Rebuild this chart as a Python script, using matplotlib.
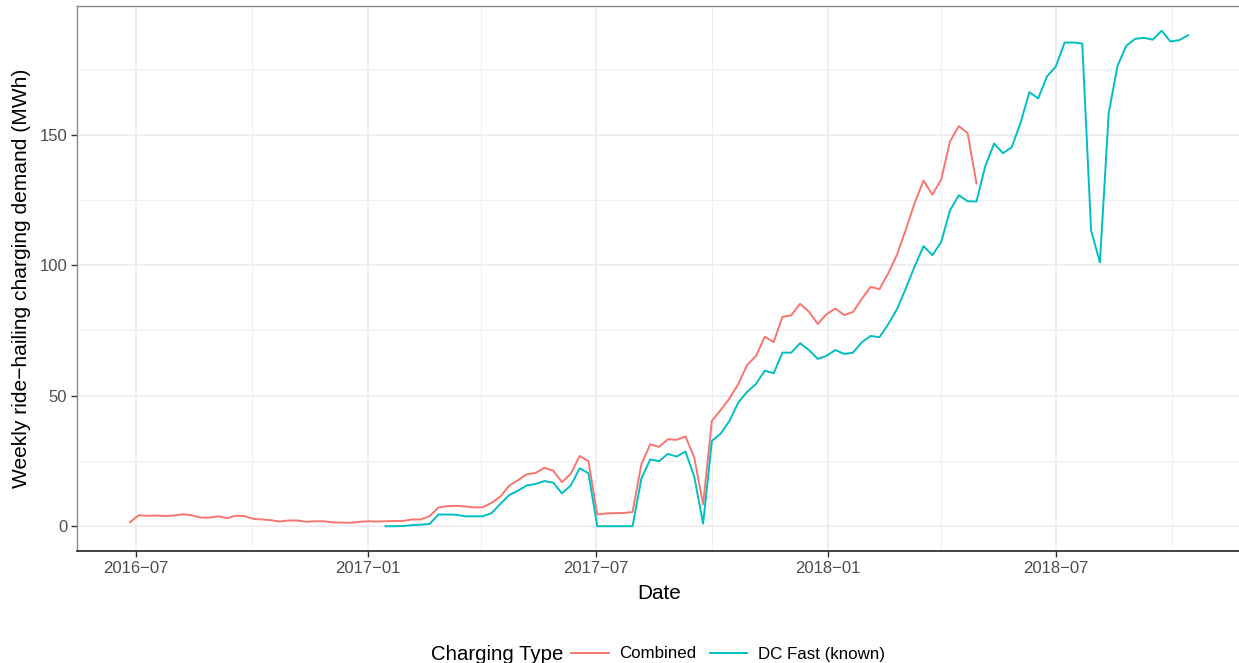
import matplotlib
matplotlib.use("Agg")
import matplotlib.pyplot as plt
from matplotlib.lines import Line2D
from matplotlib.offsetbox import HPacker
import pandas as pd

plt.rcParams['font.family'] = ['Liberation Sans', 'DejaVu Sans']

combined_start = "2016-06-26"
combined = [1.5, 4.2, 4.0, 4.1, 3.9, 4.1, 4.6, 4.2, 3.3, 3.3, 3.8, 3.1, 4.0, 3.9,
            2.8, 2.6, 2.3, 1.8, 2.2, 2.2, 1.7, 1.9, 1.9, 1.5, 1.4, 1.3, 1.7,
            1.9, 1.8, 1.9, 2.0, 2.05, 2.6, 2.6, 3.9,
            7.2, 7.7, 7.8, 7.6, 7.2, 7.3, 8.9, 11.3, 15.5, 17.6, 19.9, 20.4, 22.4,
            21.3, 16.9, 20.1, 26.9, 24.9, 4.5, 4.9, 5.0, 5.1, 5.4, 23.7, 31.4,
            30.4, 33.3, 33.1, 34.4,
            26.3, 8.4, 40.4, 44.5, 49.0, 54.5, 61.8, 65.2, 72.6, 70.5, 80.2, 80.8,
            85.2, 82.2, 77.5, 81.2, 83.4, 80.9, 82.1, 87.1, 91.7, 90.8, 96.9,
            104.1, 113.7, 123.9, 132.4, 127.0, 132.8, 147.4, 153.3, 150.6, 131.3]

dcfast_start = "2017-01-15"
dcfast = [0, 0, 0.1, 0.4, 0.6, 0.9,
          4.5, 4.5, 4.4, 3.8, 3.8, 3.8, 5.0, 8.5, 11.9, 13.6, 15.6, 16.2, 17.3,
          16.7, 12.6, 15.6, 22.2, 20.3, 0, 0, 0, 0, 0, 18.2, 25.6, 24.9, 27.7,
          26.7, 28.6,
          19.0, 1.0, 32.7, 35.5, 40.4, 47.4, 51.5, 54.5, 59.6, 58.6, 66.5, 66.5,
          70.1, 67.5, 64.1, 65.3, 67.5, 66.0, 66.5, 70.5, 72.9, 72.4, 77.4, 83.2,
          91.2, 99.6, 107.3, 103.8, 108.9, 121.0, 126.8, 124.5, 124.4, 137.9,
          146.6, 142.9, 145.2, 154.5, 166.3, 163.9, 172.3, 176.1, 185.3, 185.3,
          184.9, 113.3, 101.1, 158.3, 176.4, 184.1, 186.7, 187.1, 186.4, 189.8,
          185.7, 186.2, 188.1]

series_names = ["Combined", "DC Fast (known)"]
series_colors = ["#F8766D", "#00BFC4"]
x_tick_labels = ["2016−07", "2017−01", "2017−07", "2018−01", "2018−07"]
x_tick_dates = ["2016-07-01", "2017-01-01", "2017-07-01", "2018-01-01", "2018-07-01"]
x_minor_dates = ["2016-10-01", "2017-04-01", "2017-10-01", "2018-04-01", "2018-10-01"]
y_ticks = [0, 50, 100, 150]
y_minor = [25, 75, 125, 175]

d_comb = pd.date_range(combined_start, periods=len(combined), freq="7D")
d_dc = pd.date_range(dcfast_start, periods=len(dcfast), freq="7D")

W, H = 1239, 663
fig = plt.figure(figsize=(W / 100, H / 100), dpi=100)
left, right, top, bottom = 77, 1241, 6, 551
ax = fig.add_axes([left / W, 1 - bottom / H, (right - left) / W, (bottom - top) / H])

ax.plot(d_comb, combined, color=series_colors[0], lw=1.4, zorder=3)
ax.plot(d_dc, dcfast, color=series_colors[1], lw=1.4, zorder=3)

ax.set_xticks([pd.Timestamp(d) for d in x_tick_dates])
ax.set_xticklabels(x_tick_labels)
ax.set_xticks([pd.Timestamp(d) for d in x_minor_dates], minor=True)
ax.set_yticks(y_ticks)
ax.set_yticks(y_minor, minor=True)

# limits with ggplot-style 5% expansion (set after ticks)
xmin = min(d_comb[0], d_dc[0]); xmax = max(d_comb[-1], d_dc[-1])
span = xmax - xmin
ax.set_xlim(xmin - span * 0.05, xmax + span * 0.05)
ymax = max(max(combined), max(dcfast)); ymin = 0
ax.set_ylim(ymin - (ymax - ymin) * 0.05, ymax + (ymax - ymin) * 0.05)

ax.grid(which='major', color='#EBEBEB', lw=1.1, zorder=0)
ax.grid(which='minor', color='#EBEBEB', lw=0.55, zorder=0)
ax.set_axisbelow(True)

ax.tick_params(which='major', length=4, width=1.0, color='#333333',
               labelcolor='#4D4D4D', labelsize=12, pad=3)
ax.tick_params(which='minor', length=0)

for s in ['top', 'left']:
    ax.spines[s].set_color('#8A8A8A')
    ax.spines[s].set_linewidth(1.0)
ax.spines['right'].set_visible(False)
ax.spines['bottom'].set_color('#333333')
ax.spines['bottom'].set_linewidth(1.3)

ax.set_xlabel("Date", fontsize=14.9, color='black', labelpad=6)
ax.set_ylabel("Weekly ride−hailing charging demand (MWh)", fontsize=15.1,
              color='black', labelpad=6)

handles = [Line2D([0], [0], color=c, lw=1.4) for c in series_colors]
leg = fig.legend(handles, series_names, title="Charging Type", loc='center',
                 bbox_to_anchor=(658 / W, 1 - 654 / H), ncol=2, frameon=False,
                 fontsize=12.2, title_fontsize=14.7, handlelength=2.2,
                 handletextpad=0.65, columnspacing=0.8)
title = leg._legend_title_box
entries = leg._legend_handle_box
leg._legend_box._children = [HPacker(children=[title, entries], align="center", pad=0, sep=6)]

fig.savefig("out.png", dpi=100)
